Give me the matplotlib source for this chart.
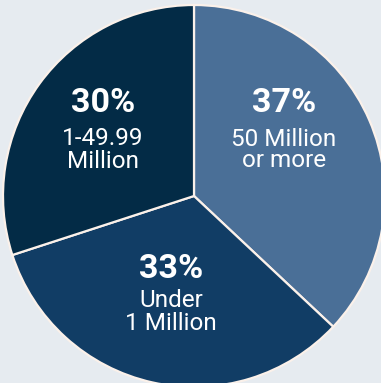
import matplotlib
matplotlib.use("Agg")
import matplotlib.pyplot as plt

categories = ["50 Million\nor more", "Under\n1 Million", "1-49.99\nMillion"]
shares = [37, 33, 30]
colors = ["#4a6f97", "#113d65", "#032b46"]

W, H = 381, 383
fig = plt.figure(figsize=(W / 100, H / 100), dpi=100)
fig.patch.set_facecolor("#e6ebf0")
ax = fig.add_axes([0, 0, 1, 1])

cx, cy, r = 194, H - 196, 191
wedges, _ = ax.pie(shares, colors=colors, startangle=90, counterclock=False,
                   center=(cx, cy), radius=r, frame=True,
                   wedgeprops=dict(edgecolor="#fbf1ea", linewidth=1.6))
ax.set_xlim(0, W)
ax.set_ylim(0, H)
ax.set_aspect("equal")
ax.axis("off")

# label positions (pixel coordinates from top-left)
pct_pos = [(284, 103), (171, 269), (103, 103)]
lab_pos = [(284, 150), (171, 312), (103, 150)]
spacing = [0.88, 1.0, 0.95]
for s, cat, (px, py), (lx, ly), ls in zip(shares, categories, pct_pos, lab_pos, spacing):
    ax.text(px, H - py, f"{s}%", ha="center", va="center", color="white",
            fontsize=24.5, fontweight="bold", family="Roboto")
    ax.text(lx, H - ly, cat, ha="center", va="center", color="white",
            fontsize=17.5, family="Roboto", fontweight="normal", linespacing=ls)

fig.savefig("out.png", dpi=100, facecolor=fig.get_facecolor())
